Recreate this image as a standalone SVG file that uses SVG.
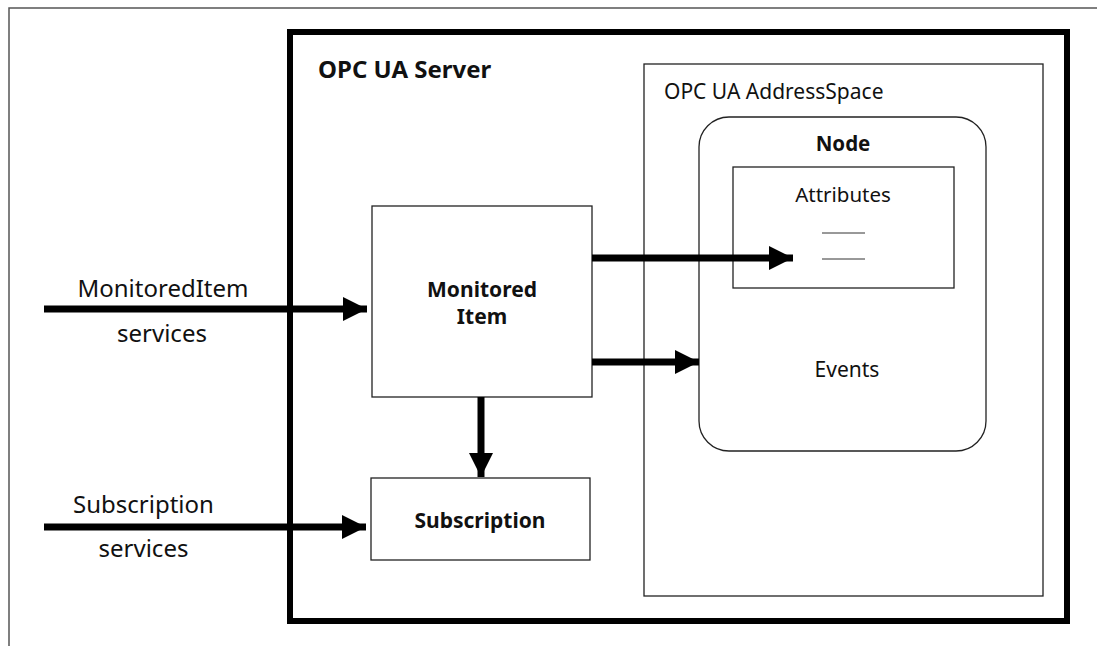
<svg xmlns="http://www.w3.org/2000/svg" width="1097" height="646" viewBox="0 0 1097 646">
<style>
text{font-family:"Noto Sans","Open Sans","DejaVu Sans",sans-serif;fill:#111;}
.b{font-weight:bold;}
.thin{fill:#fff;stroke:#222;stroke-width:1.3;}
.conn{stroke:#000;stroke-width:7;fill:none;}
.lbl{font-size:24px;text-anchor:middle;}
</style>
<defs>
<marker id="ah" markerUnits="userSpaceOnUse" markerWidth="26" markerHeight="26" refX="24" refY="12" orient="auto">
<path d="M0,0 L24,12 L0,24 Z" fill="#000"/>
</marker>
</defs>
<rect width="1097" height="646" fill="#fff"/>
<path d="M9,646 V8 H1097" fill="none" stroke="#555" stroke-width="1.5"/>
<g id="server">
<rect x="290" y="32" width="777" height="589" fill="#fff" stroke="#000" stroke-width="6"/>
<text class="b" x="318" y="78" font-size="24">OPC UA Server</text>
</g>
<g id="addressspace">
<rect class="thin" x="644" y="64" width="399" height="532"/>
<text x="664" y="99" font-size="21">OPC UA AddressSpace</text>
</g>
<g id="node">
<rect class="thin" x="699" y="117" width="287" height="334" rx="30" ry="30"/>
<text class="b" x="843" y="151" font-size="20.5" text-anchor="middle">Node</text>
<text x="847" y="377" font-size="21" text-anchor="middle">Events</text>
</g>
<g id="attributes">
<rect class="thin" x="733" y="167" width="221" height="121"/>
<text x="843" y="202" font-size="20.5" text-anchor="middle">Attributes</text>
<path d="M822,233 H865 M822,259 H865" stroke="#333" stroke-width="1"/>
</g>
<g id="monitoreditem">
<rect class="thin" x="372" y="206" width="220" height="191"/>
<text class="b" x="482" y="297" font-size="21" text-anchor="middle">Monitored</text>
<text class="b" x="482" y="324" font-size="21" text-anchor="middle">Item</text>
</g>
<g id="subscription">
<rect class="thin" x="371" y="478" width="219" height="82"/>
<text class="b" x="480" y="528" font-size="21" text-anchor="middle">Subscription</text>
</g>
<g id="connectors">
<line class="conn" x1="44" y1="309" x2="367" y2="309" marker-end="url(#ah)"/>
<line class="conn" x1="44" y1="527" x2="366" y2="527" marker-end="url(#ah)"/>
<line class="conn" x1="592" y1="258" x2="793" y2="258" marker-end="url(#ah)"/>
<line class="conn" x1="592" y1="362" x2="699" y2="362" marker-end="url(#ah)"/>
<line class="conn" x1="481" y1="397" x2="481" y2="477" marker-end="url(#ah)"/>
</g>
<g id="labels">
<text class="lbl" x="163" y="297">MonitoredItem</text>
<text class="lbl" x="162" y="342">services</text>
<text class="lbl" x="143.5" y="513">Subscription</text>
<text class="lbl" x="143.5" y="557">services</text>
</g>
</svg>
